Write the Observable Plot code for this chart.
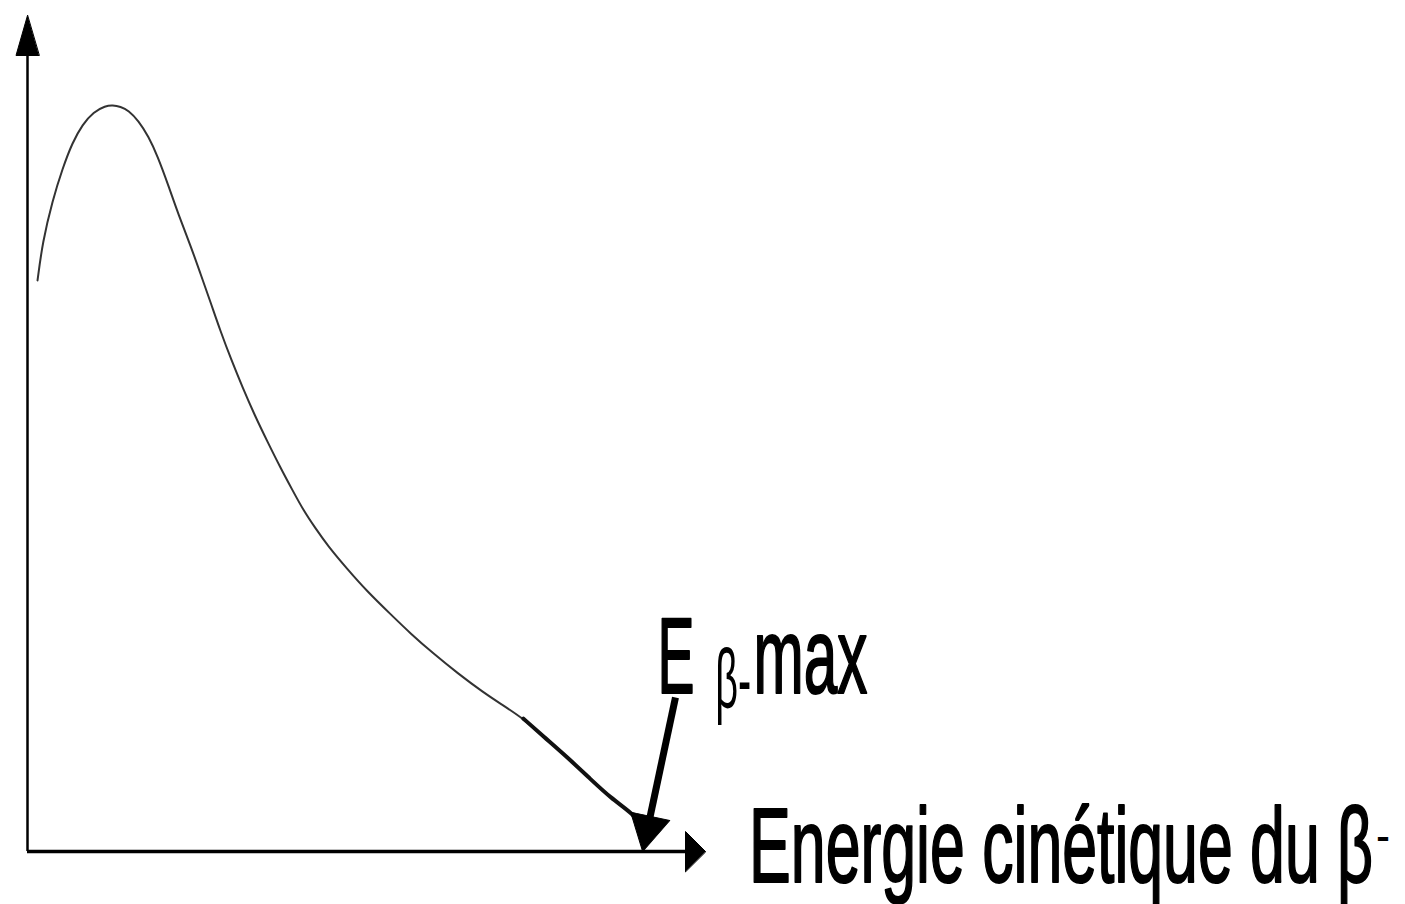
<!DOCTYPE html>
<html>
<head>
<meta charset="utf-8">
<script src="https://cdn.jsdelivr.net/npm/d3@7"></script>
<script src="https://cdn.jsdelivr.net/npm/@observablehq/plot@0.6"></script>
<style>
  html, body { margin: 0; padding: 0; background: #fff; overflow: hidden; }
  #chart svg { display: block; }
</style>
</head>
<body>
<div id="chart"></div>
<script>
// Beta-minus decay spectrum: relative number of electrons versus kinetic energy
// (energy in units of the end-point energy E max).
const energy = [0.0163, 0.0244, 0.0406, 0.0569, 0.0731, 0.0894, 0.1073, 0.1268, 0.1382,
  0.1512, 0.1642, 0.1804, 0.1967, 0.2113, 0.2292, 0.2455, 0.2650, 0.2812, 0.2975,
  0.3137, 0.3316, 0.3495, 0.3690, 0.3901, 0.4113, 0.4308, 0.4486, 0.4681, 0.4877,
  0.5202, 0.5527, 0.5901, 0.6226, 0.6600, 0.6990, 0.7412, 0.7689, 0.8062, 0.8388,
  0.8778, 0.9152, 0.9477, 0.9851, 1.0];
const counts = [0.765, 0.816, 0.872, 0.915, 0.950, 0.974, 0.991, 0.999, 1.0,
  0.998, 0.993, 0.979, 0.958, 0.932, 0.892, 0.853, 0.812, 0.774, 0.736,
  0.697, 0.658, 0.622, 0.585, 0.549, 0.514, 0.484, 0.457, 0.433, 0.410,
  0.378, 0.348, 0.318, 0.292, 0.265, 0.239, 0.213, 0.198, 0.178, 0.154,
  0.126, 0.097, 0.072, 0.050, 0.034];
const energyMax = 1.0;

// Text labels
const axisLabel = "Energie cinétique du β";
const axisLabelSup = "-";
const maxLabel = "E";
const maxLabelSub = "β-";
const maxLabelSuffix = "max";

// Frame
const W = 1405, H = 904;
const mL = 27, mR = 0, mT = 15, mB = 53;
const xDomain = [0, 2.24];
const yDomain = [0, 1.12];
const xs = Plot.scale({x: {domain: xDomain, range: [mL, W - mR]}});
const ys = Plot.scale({y: {domain: yDomain, range: [H - mB, mT]}});

const spectrum = energy.map((e, i) => ({e, n: counts[i]}));
const tail = spectrum.filter(d => d.e >= 0.80);

// Axis extents (arrow tips) and arrowhead sizes in pixels
const xAxisEnd = xs.invert(705);
const yAxisEnd = yDomain[1];
const headY = {len: 40, r: 11.5};
const headX = {len: 20, r: 20};
const headE = {len: 36, r: 20};
const yRuleEnd = ys.invert(ys.apply(yAxisEnd) + headY.len);
const xRuleEnd = xs.invert(xs.apply(xAxisEnd) - headX.len);

// Pointer from the "E β-max" label to the end point of the spectrum
const pointerFrom = {e: 1.0533, n: 0.2063};
const pointerTo = {e: energyMax, n: 0};
const px0 = xs.apply(pointerFrom.e), py0 = ys.apply(pointerFrom.n);
const px1 = xs.apply(pointerTo.e), py1 = ys.apply(pointerTo.n);
const plen = Math.hypot(px1 - px0, py1 - py0);
const ux = (px1 - px0) / plen, uy = (py1 - py0) / plen;
const pointerAngle = Math.atan2(px1 - px0, -(py1 - py0)) * 180 / Math.PI;
const shaftEnd = {e: xs.invert(px1 - ux * (headE.len - 4)), n: ys.invert(py1 - uy * (headE.len - 4))};

// Filled triangular arrowhead: tip at -l, base of half-width r at 0
const triangle = {
  draw(context, l, r) {
    context.moveTo(0, -l);
    context.lineTo(-r, 0);
    context.lineTo(r, 0);
    context.closePath();
  }
};

const font = "'Liberation Sans', Arial, sans-serif";

const plot = Plot.plot({
  width: W,
  height: H,
  marginLeft: mL, marginRight: mR, marginTop: mT, marginBottom: mB,
  x: {domain: xDomain, axis: null},
  y: {domain: yDomain, axis: null},
  style: {background: "#fff", overflow: "visible"},
  marks: [
    // axes
    Plot.ruleX([0], {y1: 0, y2: yRuleEnd, stroke: "#000", strokeWidth: 2.5}),
    Plot.ruleY([0], {x1: 0, x2: xRuleEnd, stroke: "#000", strokeWidth: 3.5}),
    Plot.vector([{x: 0, y: yAxisEnd}], {x: "x", y: "y", length: headY.len, r: headY.r, rotate: 0,
      anchor: "end", shape: triangle, fill: "#000", stroke: "#000", strokeWidth: 1}),
    Plot.vector([{x: xAxisEnd, y: 0}], {x: "x", y: "y", length: headX.len, r: headX.r, rotate: 90,
      anchor: "end", shape: triangle, fill: "#000", stroke: "#000", strokeWidth: 1}),
    // spectrum
    Plot.line(spectrum, {x: "e", y: "n", curve: "basis", stroke: "#333", strokeWidth: 2}),
    Plot.line(tail, {x: "e", y: "n", curve: "basis", stroke: "#111", strokeWidth: 4}),
    // pointer to E max
    Plot.link([{}], {x1: pointerFrom.e, y1: pointerFrom.n, x2: shaftEnd.e, y2: shaftEnd.n,
      stroke: "#000", strokeWidth: 7, strokeLinecap: "butt"}),
    Plot.vector([pointerTo], {x: "e", y: "n", length: headE.len, r: headE.r, rotate: pointerAngle,
      anchor: "end", shape: triangle, fill: "#000", stroke: "#000", strokeWidth: 1}),
    // labels
    Plot.text([maxLabel], {x: 1.024, y: 0.2117, text: d => d, textAnchor: "start", lineAnchor: "bottom",
      fontSize: 107, fontFamily: font, fill: "#000", stroke: "#000", strokeWidth: 2}),
    Plot.text([maxLabelSub], {x: 1.118, y: 0.1929, text: d => d, textAnchor: "start", lineAnchor: "bottom",
      fontSize: 84, fontFamily: font, fill: "#000"}),
    Plot.text([maxLabelSuffix], {x: 1.180, y: 0.2117, text: d => d, textAnchor: "start", lineAnchor: "bottom",
      fontSize: 107, fontFamily: font, fill: "#000", stroke: "#000", strokeWidth: 2}),
    Plot.text([axisLabel], {x: 1.173, y: -0.0402, text: d => d, textAnchor: "start", lineAnchor: "bottom",
      fontSize: 106, fontFamily: font, fill: "#000", stroke: "#000", strokeWidth: 2}),
    Plot.text([axisLabelSup], {x: 2.192, y: 0, text: d => d, textAnchor: "start", lineAnchor: "bottom",
      fontSize: 50, fontFamily: font, fill: "#000"})
  ]
});

// Condensed lettering: squeeze each label into its horizontal extent
const squeeze = new Map([
  [maxLabel, 37], [maxLabelSub, 36], [maxLabelSuffix, 114], [axisLabel, 624], [axisLabelSup, 14]
]);
plot.querySelectorAll("text").forEach(t => {
  const w = squeeze.get(t.textContent);
  if (w) {
    t.setAttribute("textLength", w);
    t.setAttribute("lengthAdjust", "spacingAndGlyphs");
  }
});

document.getElementById("chart").appendChild(plot);
</script>
</body>
</html>
